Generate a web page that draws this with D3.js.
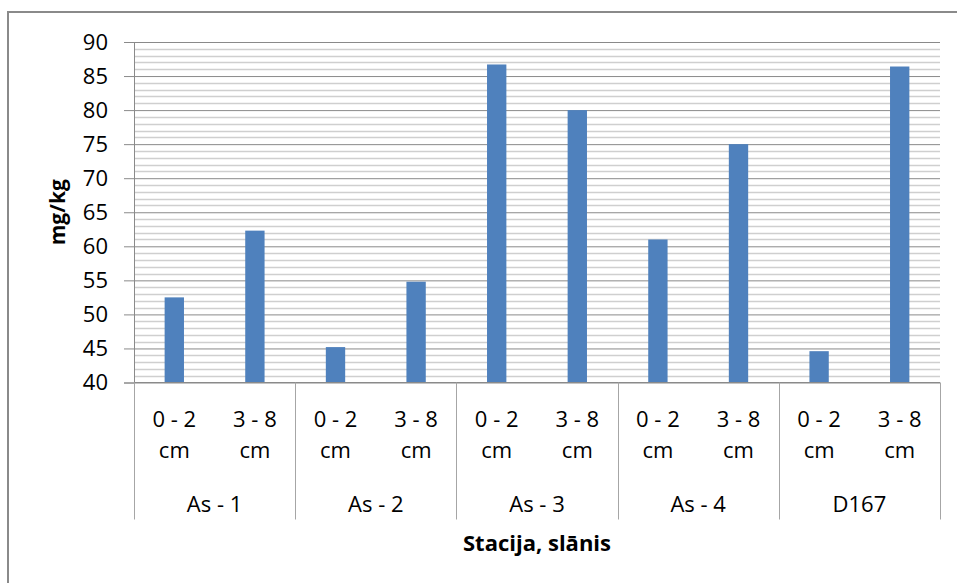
<!DOCTYPE html>
<html>
<head>
<meta charset="utf-8">
<script src="https://cdn.jsdelivr.net/npm/d3@7"></script>
<style>
  body { margin: 0; background: #fff; }
  svg { font-family: "Open Sans", sans-serif; }
</style>
</head>
<body>
<div id="chart"></div>
<script>
const stations = ["As - 1", "As - 2", "As - 3", "As - 4", "D167"];
const layers = ["0 - 2 cm", "3 - 8 cm"];
const values = [52.5, 62.3, 45.2, 54.8, 86.7, 80.0, 61.0, 75.0, 44.6, 86.4];
const yTicks = [40, 45, 50, 55, 60, 65, 70, 75, 80, 85, 90];

const W = 957, H = 583;
const margin = { top: 42, right: 17, bottom: 200, left: 134 };
const width = W - margin.left - margin.right;
const height = H - margin.top - margin.bottom - 0.5;

const svg = d3.select("#chart").append("svg")
    .attr("width", W)
    .attr("height", H);

// outer frame
svg.append("rect")
    .attr("x", 8).attr("y", 12)
    .attr("width", W + 10).attr("height", H + 10)
    .attr("fill", "none")
    .attr("stroke", "#8a8a8a")
    .attr("stroke-width", 2);

const g = svg.append("g")
    .attr("transform", `translate(${margin.left},${margin.top})`);

// flatten categories
const data = [];
stations.forEach((s, i) => layers.forEach((l, j) => {
    data.push({ station: s, layer: l, value: values[i * layers.length + j], key: s + "|" + l });
}));

const x = d3.scaleBand()
    .domain(data.map(d => d.key))
    .range([0, width]);

const y = d3.scaleLinear()
    .domain([40, 90])
    .range([height, 0]);

// minor gridlines every 1 unit
g.append("g")
    .selectAll("line")
    .data(d3.range(41, 90).filter(v => v % 5 !== 0))
    .join("line")
    .attr("x1", 0).attr("x2", width)
    .attr("y1", d => Math.round(y(d)) + 0.5)
    .attr("y2", d => Math.round(y(d)) + 0.5)
    .attr("stroke", "#cfcfcf")
    .attr("stroke-width", 1.5);

// y axis with major gridlines
const yAxis = g.append("g")
    .call(d3.axisLeft(y).tickValues(yTicks).tickSize(10).tickPadding(16));
yAxis.select(".domain").attr("stroke", "#8a8a8a");
yAxis.selectAll(".tick line").attr("stroke", "#8a8a8a");
yAxis.selectAll(".tick")
    .append("line")
    .attr("x1", 0).attr("x2", width)
    .attr("stroke", "#8a8a8a");
yAxis.selectAll(".tick text")
    .attr("font-size", 22)
    .attr("fill", "#000")
    .attr("font-family", "Open Sans, sans-serif");

// bars
g.append("g")
    .selectAll("rect")
    .data(data)
    .join("rect")
    .attr("x", d => x(d.key) + x.bandwidth() * 0.38)
    .attr("width", x.bandwidth() * 0.24)
    .attr("y", d => y(d.value))
    .attr("height", d => y(40) - y(d.value))
    .attr("fill", "#4f81bd");

// category axis (two levels)
const axisG = g.append("g").attr("transform", `translate(0,${height})`);
axisG.append("line")
    .attr("x1", 0).attr("x2", width)
    .attr("stroke", "#8a8a8a");

const groupW = x.bandwidth() * layers.length;
axisG.selectAll(".sep")
    .data(d3.range(stations.length + 1))
    .join("line")
    .attr("class", "sep")
    .attr("x1", i => Math.round(i * groupW) + 0.5)
    .attr("x2", i => Math.round(i * groupW) + 0.5)
    .attr("y1", 0).attr("y2", 137)
    .attr("stroke", "#a6a6a6");

const lab = axisG.selectAll(".lab")
    .data(data)
    .join("text")
    .attr("class", "lab")
    .attr("text-anchor", "middle")
    .attr("font-size", 22)
    .attr("fill", "#000");
lab.append("tspan")
    .attr("x", d => x(d.key) + x.bandwidth() / 2)
    .attr("y", 44)
    .text(d => d.layer.split(" cm")[0]);
lab.append("tspan")
    .attr("x", d => x(d.key) + x.bandwidth() / 2)
    .attr("y", 75)
    .text("cm");

axisG.selectAll(".grp")
    .data(stations)
    .join("text")
    .attr("class", "grp")
    .attr("x", (s, i) => (i + 0.5) * groupW)
    .attr("y", 129)
    .attr("text-anchor", "middle")
    .attr("font-size", 22)
    .attr("fill", "#000")
    .text(s => s);

// axis titles
svg.append("text")
    .attr("x", margin.left + width / 2)
    .attr("y", 551)
    .attr("text-anchor", "middle")
    .attr("font-size", 22)
    .attr("font-weight", "bold")
    .text("Stacija, slānis");

svg.append("text")
    .attr("transform", `translate(65,${margin.top + height / 2}) rotate(-90)`)
    .attr("text-anchor", "middle")
    .attr("font-size", 21)
    .attr("font-weight", "bold")
    .text("mg/kg");
</script>
</body>
</html>
